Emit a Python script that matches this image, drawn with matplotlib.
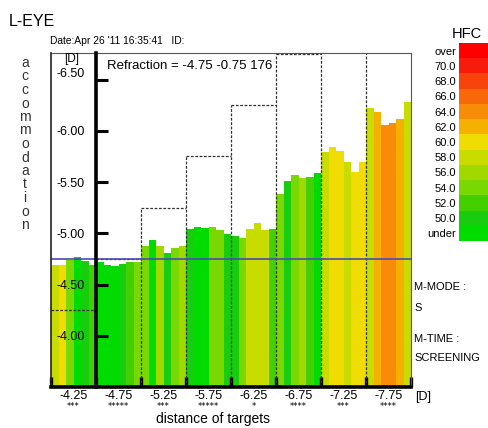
import matplotlib
matplotlib.use("Agg")
import matplotlib.pyplot as plt
from matplotlib.transforms import ScaledTranslation
import numpy as np

plt.rcParams['font.family'] = ['Liberation Sans', 'DejaVu Sans']

# ---------------- data ----------------
target_values = [-4.25, -4.75, -5.25, -5.75, -6.25, -6.75, -7.25, -7.75]
target_labels = ["-4.25", "-4.75", "-5.25", "-5.75", "-6.25", "-6.75", "-7.25", "-7.75"]
target_stars = ["***", "*****", "***", "*****", "*", "****", "***", "****"]

accommodation = [
    -4.69, -4.69, -4.74, -4.77, -4.73, -4.69,
    -4.72, -4.69, -4.68, -4.70, -4.72, -4.72,
    -4.88, -4.93, -4.88, -4.81, -4.86, -4.88,
    -5.04, -5.06, -5.05, -5.06, -5.03, -4.99,
    -4.97, -4.95, -5.04, -5.10, -5.03, -5.04,
    -5.38, -5.51, -5.57, -5.54, -5.55, -5.59,
    -5.79, -5.84, -5.80, -5.70, -5.60, -5.70,
    -6.22, -6.18, -6.06, -6.08, -6.12, -6.28,
]
hfc_class = [
    "58.0", "60.0", "54.0", "under", "50.0", "52.0",
    "under", "under", "under", "50.0", "52.0", "54.0",
    "54.0", "under", "56.0", "50.0", "54.0", "56.0",
    "50.0", "under", "under", "54.0", "54.0", "50.0",
    "50.0", "54.0", "58.0", "58.0", "58.0", "52.0",
    "54.0", "50.0", "54.0", "56.0", "52.0", "under",
    "58.0", "60.0", "60.0", "58.0", "60.0", "60.0",
    "58.0", "62.0", "64.0", "64.0", "62.0", "58.0",
]
hfc_levels = ["over", "70.0", "68.0", "66.0", "64.0", "62.0", "60.0",
              "58.0", "56.0", "54.0", "52.0", "50.0", "under"]
hfc_colors = ["#ff0000", "#f81a0a", "#f8440a", "#f8680a", "#f88c08", "#f5b000", "#f0dc00",
              "#c8dc00", "#a0d800", "#78d800", "#44d000", "#18cc10", "#00dc00"]

refraction_sph = -4.75
refraction_cyl = -0.75
refraction_axis = 176

y_ticks = [-6.5, -6.0, -5.5, -5.0, -4.5, -4.0]
y_tick_labels = ["-6.50", "-6.00", "-5.50", "-5.00", "-4.50", "-4.00"]
y_bottom, y_top = -3.5, -6.76

# ---------------- figure ----------------
W, H, DPI = 488, 428, 100
fig = plt.figure(figsize=(W / DPI, H / DPI), dpi=DPI)
fig.patch.set_facecolor("white")


def px(x0, y0, x1, y1):
    return [x0 / W, 1 - y1 / H, (x1 - x0) / W, (y1 - y0) / H]


ax = fig.add_axes(px(51, 53, 411, 387))
n_seg = len(target_values)
per_seg = len(accommodation) // n_seg
n = len(accommodation)
xs = np.arange(n)
cmap = dict(zip(hfc_levels, hfc_colors))
bar_colors = [cmap[c] for c in hfc_class]
acc = np.array(accommodation)
ax.bar(xs, acc - y_bottom, bottom=y_bottom, width=1.0, align="edge",
       color=bar_colors, linewidth=0, zorder=1)
ax.set_xlim(0, n)
ax.set_ylim(y_bottom, y_top)

# target staircase (dashed)
dash = dict(color="#303030", lw=0.9, linestyle=(0, (2.2, 1.3)), zorder=2)
for i, t in enumerate(target_values):
    ax.hlines(t, i * per_seg, (i + 1) * per_seg, **dash)
for j in range(1, n_seg):
    ax.vlines(j * per_seg, y_bottom, target_values[j], **dash)

# refraction line
ax.axhline(refraction_sph, color="#4a4ab4", lw=1.2, zorder=3)

# spines
for s in ("top", "right"):
    ax.spines[s].set_color("#555555")
    ax.spines[s].set_linewidth(0.8)
ax.spines["left"].set_position(("data", per_seg))
ax.spines["left"].set_linewidth(2.6)
ax.spines["left"].set_zorder(5)
ax.spines["bottom"].set_linewidth(2.6)
ax.spines["bottom"].set_zorder(5)
ax.axvline(0, color="#222222", lw=1.2, zorder=5, clip_on=False)

# y ticks
ax.set_yticks(y_ticks)
ax.set_yticklabels(y_tick_labels)
ax.tick_params(axis="y", direction="in", length=8.5, width=2.2, pad=8.0,
               labelsize=9, color="black")
tick0 = ax.yaxis.get_major_ticks()[0]
tick0.label1.set_transform(tick0.label1.get_transform()
                           + ScaledTranslation(0, 7 / DPI, fig.dpi_scale_trans))

# x ticks
ax.set_xticks(np.arange(0, n + 1, per_seg))
ax.set_xticklabels([])
ax.tick_params(axis="x", which="major", direction="in", length=7, width=2.4)
centers = np.arange(n_seg) * per_seg + per_seg / 2
ax.set_xticks(centers, minor=True)
ax.set_xticklabels(target_labels, minor=True)
ax.tick_params(axis="x", which="minor", length=0, pad=2.5, labelsize=9)
for c, s in zip(centers, target_stars):
    ax.annotate(s, xy=(c, 0), xycoords=("data", "axes fraction"),
                xytext=(0, -10.5), textcoords="offset points",
                ha="center", va="top", fontsize=6, family="DejaVu Sans")

# ---------------- texts ----------------
fig.text(9 / W, 1 - 22 / H, "L-EYE", fontsize=11.5, va="center")
fig.text(50 / W, 1 - 41 / H, "Date:Apr 26 '11 16:35:41   ID:", fontsize=7.4, va="center")
fig.text(107 / W, 1 - 66 / H,
         f"Refraction = {refraction_sph:.2f} {refraction_cyl:.2f} {refraction_axis}",
         fontsize=9.5, va="center")
fig.text(72 / W, 1 - 59 / H, "[D]", ha="center", va="center", fontsize=8.5)
fig.text(415 / W, 1 - 397 / H, "[D]", va="center", fontsize=9)
fig.text(213 / W, 1 - 419 / H, "distance of targets", ha="center", va="center", fontsize=10)

word = "accommodation"
for k, ch in enumerate(word):
    fig.text(25 / W, 1 - (63 + k * 13.5) / H, ch, ha="center", va="center",
             fontsize=10, color="#333333")

for txt, yy in [("M-MODE :", 287), ("S", 308), ("M-TIME :", 339), ("SCREENING", 358)]:
    fig.text(414 / W, 1 - yy / H, txt, va="center", fontsize=8)

# ---------------- HFC legend ----------------
lax = fig.add_axes(px(459, 43, 488, 241))
lax.barh(np.arange(len(hfc_levels)), 1, height=1.0, left=0, color=hfc_colors, linewidth=0)
lax.set_ylim(len(hfc_levels) - 0.5, -0.5)
lax.set_xlim(0, 1)
lax.set_yticks(np.arange(len(hfc_levels)))
lax.set_yticklabels(hfc_levels)
lax.tick_params(axis="y", length=0, pad=2, labelsize=8)
lax.set_xticks([])
for s in lax.spines.values():
    s.set_visible(False)
fig.text(467 / W, 1 - 34 / H, "HFC", ha="center", va="center", fontsize=10.5)

fig.savefig("out.png", dpi=DPI)
